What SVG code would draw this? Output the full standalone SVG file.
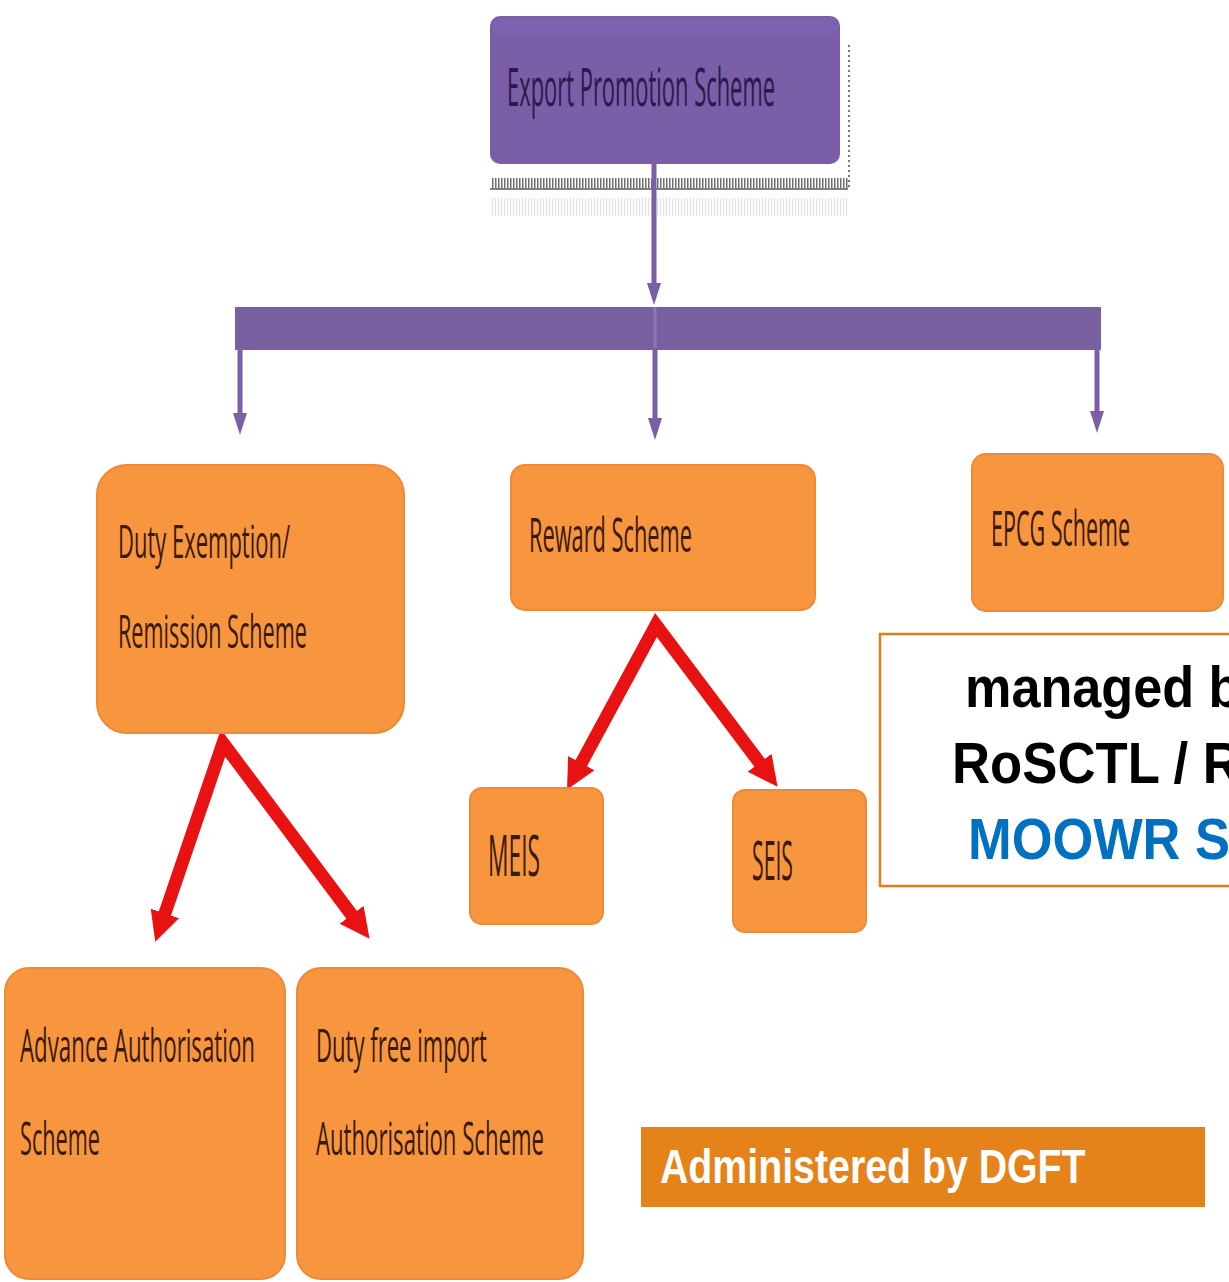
<svg xmlns="http://www.w3.org/2000/svg" width="1229" height="1282" viewBox="0 0 1229 1282">
  <defs>
    <style>
      .box { fill: #f7963f; stroke: #ec8a36; stroke-width: 2; }
      .lbl { font-family: "Open Sans", "Liberation Sans", sans-serif; fill: #3a1a0e; }
      .purple { stroke: #7a5ea6; stroke-width: 5; fill: none; }
      .red { stroke: #e81212; stroke-width: 13; fill: none; stroke-linejoin: miter; stroke-miterlimit: 10; }
      .note { font-family: "Liberation Sans", Arial, sans-serif; font-weight: bold; font-size: 58px; }
    </style>
    <marker id="headPurple" viewBox="0 0 22 14" markerWidth="22" markerHeight="14" refX="8" refY="7" orient="auto" markerUnits="userSpaceOnUse">
      <path d="M0,0 L22,7 L0,14 z" fill="#7a5ea6"/>
    </marker>
    <marker id="headRed" viewBox="0 0 10 10" markerWidth="2.3" markerHeight="2.4" refX="3" refY="5" orient="auto-start-reverse">
      <path d="M0,0 L10,5 L0,10 z" fill="#e81212"/>
    </marker>
    <pattern id="comb" width="3" height="12" patternUnits="userSpaceOnUse">
      <rect x="0" y="0" width="1.5" height="12" fill="#6e6e6e"/>
    </pattern>
    <pattern id="combLight" width="3" height="16" patternUnits="userSpaceOnUse">
      <rect x="0" y="0" width="1.2" height="16" fill="#e4e0ea"/>
    </pattern>
  </defs>

  <rect x="0" y="0" width="1229" height="1282" fill="#ffffff"/>

  <!-- top node with its ribbed shadow -->
  <g id="node-export-promotion">
    <rect x="490" y="198" width="358" height="18" fill="url(#combLight)"/>
    <rect x="492" y="178" width="356" height="10" fill="url(#comb)"/>
    <line x1="490" y1="189" x2="848" y2="189" stroke="#555" stroke-width="1.5"/>
    <line x1="849" y1="45" x2="849" y2="188" stroke="#777" stroke-width="2" stroke-dasharray="2 3"/>
    <rect x="490" y="16" width="350" height="148" rx="10" fill="#7a5ea8"/>
    <rect x="492" y="18" width="346" height="18" rx="8" fill="#7d64b4" opacity="0.7"/>
    <text transform="translate(507,106) scale(0.5,1)" font-family="'Open Sans', 'Liberation Sans', sans-serif" font-size="53" fill="#2a1a4c" textLength="536" lengthAdjust="spacingAndGlyphs">Export Promotion Scheme</text>
  </g>

  <!-- connectors -->
  <g id="connectors">
    <line class="purple" x1="654" y1="163" x2="654" y2="291" marker-end="url(#headPurple)"/>
    <rect x="235" y="307" width="866" height="43" fill="#7860a0"/>
    <line x1="655" y1="307" x2="655" y2="350" stroke="#8d76b8" stroke-width="3"/>
    <line class="purple" x1="240" y1="348" x2="240" y2="421" marker-end="url(#headPurple)"/>
    <line class="purple" x1="655" y1="348" x2="655" y2="426" marker-end="url(#headPurple)"/>
    <line class="purple" x1="1097" y1="348" x2="1097" y2="419" marker-end="url(#headPurple)"/>
    <polyline class="red" points="162,922 223,743 357,922" marker-start="url(#headRed)" marker-end="url(#headRed)"/>
    <polyline class="red" points="577,771 656,625 765,770" marker-start="url(#headRed)" marker-end="url(#headRed)"/>
  </g>

  <g id="node-duty-exemption">
    <rect class="box" x="97" y="465" width="307" height="268" rx="30"/>
    <text class="lbl" transform="translate(118,558) scale(0.5,1)" font-size="46" textLength="344" lengthAdjust="spacingAndGlyphs">Duty Exemption/</text>
    <text class="lbl" transform="translate(118,648) scale(0.5,1)" font-size="46" textLength="378" lengthAdjust="spacingAndGlyphs">Remission Scheme</text>
  </g>

  <g id="node-reward">
    <rect class="box" x="511" y="465" width="304" height="145" rx="14"/>
    <text class="lbl" transform="translate(529,552) scale(0.5,1)" font-size="48" textLength="326" lengthAdjust="spacingAndGlyphs">Reward Scheme</text>
  </g>

  <g id="node-epcg">
    <rect class="box" x="972" y="454" width="251" height="157" rx="14"/>
    <text class="lbl" transform="translate(991,546) scale(0.5,1)" font-size="50" textLength="278" lengthAdjust="spacingAndGlyphs">EPCG Scheme</text>
  </g>

  <g id="node-meis">
    <rect class="box" x="470" y="788" width="133" height="136" rx="12"/>
    <text class="lbl" transform="translate(488,876) scale(0.5,1)" font-size="56" textLength="104" lengthAdjust="spacingAndGlyphs">MEIS</text>
  </g>

  <g id="node-seis">
    <rect class="box" x="733" y="790" width="133" height="142" rx="12"/>
    <text class="lbl" transform="translate(752,880) scale(0.5,1)" font-size="54" textLength="82" lengthAdjust="spacingAndGlyphs">SEIS</text>
  </g>

  <g id="node-advance-authorisation">
    <rect class="box" x="5" y="968" width="280" height="311" rx="24"/>
    <text class="lbl" transform="translate(20,1062) scale(0.5,1)" font-size="45" textLength="470" lengthAdjust="spacingAndGlyphs">Advance Authorisation</text>
    <text class="lbl" transform="translate(20,1155) scale(0.5,1)" font-size="45" textLength="160" lengthAdjust="spacingAndGlyphs">Scheme</text>
  </g>

  <g id="node-duty-free-import">
    <rect class="box" x="297" y="968" width="286" height="311" rx="24"/>
    <text class="lbl" transform="translate(316,1062) scale(0.5,1)" font-size="45" textLength="342" lengthAdjust="spacingAndGlyphs">Duty free import</text>
    <text class="lbl" transform="translate(316,1155) scale(0.5,1)" font-size="45" textLength="456" lengthAdjust="spacingAndGlyphs">Authorisation Scheme</text>
  </g>

  <g id="note-managed">
    <rect x="880" y="634" width="360" height="252" fill="#ffffff" stroke="#e07d1c" stroke-width="2.5"/>
    <text class="note" transform="translate(965,707) scale(0.9,1)" fill="#000" textLength="306" lengthAdjust="spacingAndGlyphs">managed b</text>
    <text class="note" transform="translate(952,783) scale(0.9,1)" fill="#000" textLength="321" lengthAdjust="spacingAndGlyphs">RoSCTL / R</text>
    <text class="note" transform="translate(968,859) scale(0.9,1)" fill="#0070c0" textLength="291" lengthAdjust="spacingAndGlyphs">MOOWR S</text>
  </g>

  <g id="note-dgft">
    <rect x="641" y="1127" width="564" height="80" fill="#e5821a"/>
    <text transform="translate(660,1183) scale(0.8,1)" font-family="'Liberation Sans', Arial, sans-serif" font-weight="bold" font-size="48" fill="#ffffff" textLength="532" lengthAdjust="spacingAndGlyphs">Administered by DGFT</text>
  </g>
</svg>
